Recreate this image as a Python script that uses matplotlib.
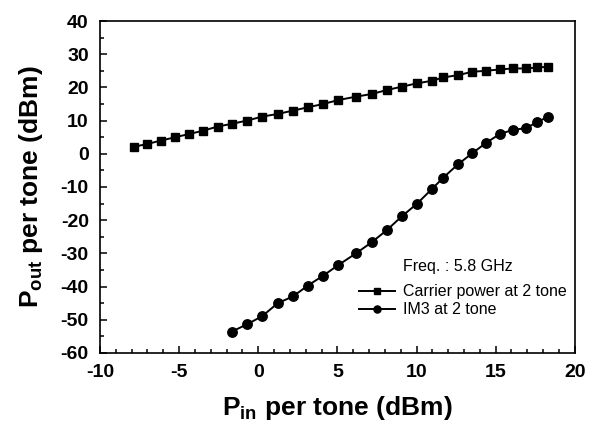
import matplotlib
matplotlib.use("Agg")
import matplotlib.pyplot as plt
from matplotlib.ticker import MultipleLocator

plt.rcParams['font.family'] = ['Liberation Sans', 'DejaVu Sans']
plt.rcParams['mathtext.fontset'] = 'custom'
plt.rcParams['mathtext.rm'] = 'Liberation Sans:bold'
plt.rcParams['mathtext.it'] = 'Liberation Sans:bold'
plt.rcParams['mathtext.bf'] = 'Liberation Sans:bold'
plt.rcParams['axes.unicode_minus'] = False

# Input power per tone (dBm)
pin = [-7.85, -7.01, -6.17, -5.26, -4.36, -3.47, -2.57, -1.68, -0.71, 0.26,
       1.24, 2.19, 3.14, 4.11, 5.07, 6.18, 7.16, 8.13, 9.06, 10.02,
       10.98, 11.69, 12.64, 13.51, 14.4, 15.25, 16.08, 16.9, 17.62, 18.32]
# Carrier power at 2 tone (dBm)
carrier = [2.1, 2.95, 3.95, 4.96, 5.96, 6.96, 8.2, 9.0, 10.0, 11.2,
           12.0, 13.0, 14.0, 15.0, 16.2, 17.2, 18.0, 19.2, 20.2, 21.2,
           22.0, 23.0, 23.7, 24.7, 25.0, 25.4, 25.7, 25.7, 26.0, 26.2]
# IM3 at 2 tone (dBm), starting at pin[7]
im3 = [-53.6, -51.4, -48.9, -45.0, -43.0, -39.7, -36.7, -33.5, -30.0, -26.7,
       -23.0, -18.9, -15.1, -10.6, -7.2, -3.1, 0.1, 3.3, 5.9, 7.2,
       7.7, 9.5, 11.2]

fig = plt.figure(figsize=(5.95, 4.33), dpi=100)
ax = fig.add_axes([0.168, 0.185, 0.798, 0.7665])

ax.plot(pin, carrier, color='black', lw=1.4, marker='s', ms=6.3,
        label='Carrier power at 2 tone')
ax.plot(pin[7:], im3, color='black', lw=1.4, marker='o', ms=6.8,
        label='IM3 at 2 tone')

ax.set_xlim(-10, 20)
ax.set_ylim(-60, 40)
ax.xaxis.set_major_locator(MultipleLocator(5))
ax.xaxis.set_minor_locator(MultipleLocator(1))
ax.yaxis.set_major_locator(MultipleLocator(10))
ax.yaxis.set_minor_locator(MultipleLocator(5))
ax.tick_params(which='both', direction='in', top=False, right=False, width=1.1)
ax.tick_params(which='major', length=5, pad=8, labelsize=14)
ax.tick_params(which='minor', length=3)
for lab in ax.get_xticklabels() + ax.get_yticklabels():
    lab.set_fontweight('bold')
for s in ax.spines.values():
    s.set_linewidth(1.2)

ax.set_xlabel(r'P$_{\rm in}$ per tone (dBm)', fontsize=19, fontweight='bold', labelpad=9)
ax.set_ylabel(r'P$_{\rm out}$ per tone (dBm)', fontsize=19, fontweight='bold', labelpad=11)

ax.text(0.638, 0.259, 'Freq. : 5.8 GHz', transform=ax.transAxes, fontsize=11.5,
        va='center', ha='left')
leg = ax.legend(loc='upper left', bbox_to_anchor=(0.545, 0.207), frameon=False,
                fontsize=11.5, handlelength=2.3, handletextpad=0.45,
                labelspacing=0.2, markerscale=0.75, borderaxespad=0, borderpad=0)

fig.savefig('out.png', dpi=100)
